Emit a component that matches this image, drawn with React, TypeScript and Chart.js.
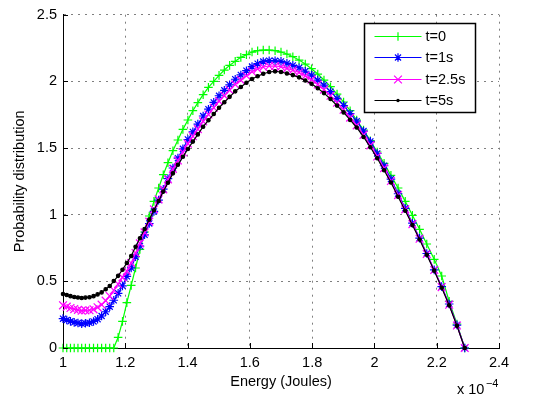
import React, { useEffect, useRef } from "react";
import { Chart, registerables } from "chart.js";

Chart.register(...registerables);

// Energy axis values (units of 1e-4 J)
const energy = [
  1.0, 1.012, 1.024, 1.036, 1.048, 1.06, 1.072, 1.085, 1.098, 1.111,
  1.124, 1.137, 1.15, 1.163, 1.177, 1.191, 1.205, 1.219, 1.233, 1.247,
  1.262, 1.277, 1.292, 1.307, 1.322, 1.337, 1.353, 1.369, 1.385, 1.401,
  1.417, 1.433, 1.45, 1.467, 1.484, 1.501, 1.518, 1.535, 1.553, 1.571,
  1.589, 1.607, 1.625, 1.643, 1.662, 1.681, 1.7, 1.719, 1.738, 1.758,
  1.778, 1.798, 1.818, 1.838, 1.859, 1.88, 1.901, 1.922, 1.943, 1.965,
  1.987, 2.009, 2.031, 2.053, 2.076, 2.099, 2.122, 2.145, 2.168, 2.192,
  2.216, 2.24, 2.265, 2.29,
];

const probT0 = [
  0, 0, 0, 0, 0, 0, 0, 0, 0, 0,
  0, 0, 0, 0, 0.08, 0.2, 0.34, 0.47, 0.6, 0.74,
  0.87, 0.99, 1.1, 1.2, 1.3, 1.39, 1.48, 1.56, 1.64, 1.71,
  1.78, 1.84, 1.9, 1.955, 2.0, 2.045, 2.085, 2.12, 2.15, 2.18,
  2.2, 2.22, 2.23, 2.235, 2.235, 2.23, 2.22, 2.205, 2.185, 2.16,
  2.13, 2.095, 2.055, 2.01, 1.96, 1.905, 1.845, 1.78, 1.71, 1.635,
  1.555, 1.47, 1.385, 1.295, 1.2, 1.1, 0.995, 0.89, 0.78, 0.665,
  0.54, 0.35, 0.18, 0,
];

const probT1 = [
  0.22, 0.21, 0.2, 0.192, 0.188, 0.183, 0.186, 0.189, 0.199, 0.216,
  0.24, 0.272, 0.31, 0.358, 0.41, 0.466, 0.537, 0.601, 0.685, 0.764,
  0.849, 0.934, 1.025, 1.109, 1.191, 1.27, 1.35, 1.424, 1.494, 1.564,
  1.621, 1.679, 1.74, 1.791, 1.842, 1.892, 1.933, 1.974, 2.016, 2.048,
  2.08, 2.111, 2.133, 2.149, 2.155, 2.154, 2.15, 2.135, 2.12, 2.102,
  2.076, 2.047, 2.009, 1.972, 1.923, 1.872, 1.819, 1.759, 1.701, 1.627,
  1.55, 1.459, 1.367, 1.267, 1.157, 1.048, 0.936, 0.824, 0.709, 0.586,
  0.46, 0.33, 0.172, 0,
];

const probT25 = [
  0.32, 0.31, 0.3, 0.292, 0.286, 0.28, 0.282, 0.283, 0.29, 0.305,
  0.325, 0.355, 0.39, 0.433, 0.48, 0.53, 0.577, 0.638, 0.712, 0.785,
  0.867, 0.948, 1.04, 1.115, 1.19, 1.265, 1.344, 1.407, 1.468, 1.533,
  1.588, 1.642, 1.7, 1.751, 1.802, 1.852, 1.893, 1.934, 1.977, 2.009,
  2.042, 2.072, 2.094, 2.108, 2.115, 2.115, 2.11, 2.097, 2.083, 2.066,
  2.041, 2.013, 1.976, 1.938, 1.892, 1.84, 1.787, 1.728, 1.67, 1.599,
  1.52, 1.437, 1.349, 1.253, 1.147, 1.04, 0.929, 0.819, 0.705, 0.585,
  0.457, 0.325, 0.169, 0,
];

const probT5 = [
  0.405, 0.397, 0.389, 0.383, 0.379, 0.375, 0.378, 0.381, 0.389, 0.402,
  0.417, 0.441, 0.465, 0.502, 0.541, 0.587, 0.638, 0.69, 0.76, 0.823,
  0.893, 0.963, 1.033, 1.103, 1.173, 1.24, 1.31, 1.374, 1.434, 1.493,
  1.548, 1.602, 1.66, 1.708, 1.755, 1.802, 1.843, 1.884, 1.925, 1.958,
  1.99, 2.018, 2.038, 2.057, 2.07, 2.075, 2.07, 2.059, 2.047, 2.03,
  2.006, 1.982, 1.948, 1.912, 1.868, 1.818, 1.767, 1.711, 1.654, 1.583,
  1.506, 1.423, 1.333, 1.241, 1.135, 1.03, 0.922, 0.814, 0.7, 0.58,
  0.452, 0.32, 0.166, 0,
];

const seriesLabels = ["t=0", "t=1s", "t=2.5s", "t=5s"];
const xTicks = [1, 1.2, 1.4, 1.6, 1.8, 2, 2.2, 2.4];
const yTicks = [0, 0.5, 1, 1.5, 2, 2.5];
const xTitle = "Energy (Joules)";
const yTitle = "Probability distribution";
const xExpBase = "x 10";
const xExpPower = "\u22124";

const FONT_FAMILY = '"Liberation Sans", Arial, Helvetica, sans-serif';
const FONT_SIZE = 14.5;

function drawMarker(ctx: CanvasRenderingContext2D, style: string, x: number, y: number, r: number, color: string, w: number) {
  ctx.save();
  ctx.strokeStyle = color;
  ctx.fillStyle = color;
  ctx.lineWidth = w;
  ctx.beginPath();
  if (style === "cross" || style === "star") {
    ctx.moveTo(x - r, y);
    ctx.lineTo(x + r, y);
    ctx.moveTo(x, y - r);
    ctx.lineTo(x, y + r);
  }
  if (style === "crossRot" || style === "star") {
    const d = r * Math.SQRT1_2;
    ctx.moveTo(x - d, y - d);
    ctx.lineTo(x + d, y + d);
    ctx.moveTo(x - d, y + d);
    ctx.lineTo(x + d, y - d);
  }
  ctx.stroke();
  if (style === "circle") {
    ctx.beginPath();
    ctx.arc(x, y, r, 0, Math.PI * 2);
    ctx.fill();
  }
  ctx.restore();
}

const decorPlugin = {
  id: "matlabDecor",
  afterDraw(chart: any) {
    const { ctx, chartArea: a, scales } = chart;
    const xs = scales.x;
    const ys = scales.y;
    ctx.save();
    // inward tick marks
    ctx.strokeStyle = "#000";
    ctx.lineWidth = 1;
    ctx.beginPath();
    xTicks.forEach((v) => {
      const px = Math.round(xs.getPixelForValue(v)) + 0.5;
      ctx.moveTo(px, a.bottom);
      ctx.lineTo(px, a.bottom - 5);
    });
    yTicks.forEach((v) => {
      const py = Math.round(ys.getPixelForValue(v)) + 0.5;
      ctx.moveTo(a.left, py);
      ctx.lineTo(a.left + 5, py);
    });
    ctx.stroke();

    // exponent label
    ctx.fillStyle = "#000";
    ctx.textAlign = "left";
    ctx.textBaseline = "alphabetic";
    ctx.font = `${FONT_SIZE}px ${FONT_FAMILY}`;
    const bx = a.right - 42;
    const by = a.bottom + 46;
    ctx.fillText(xExpBase, bx, by);
    const bw = ctx.measureText(xExpBase).width;
    ctx.font = `11px ${FONT_FAMILY}`;
    ctx.fillText(xExpPower, bx + bw + 1.5, by - 7);

    // legend
    const ds = chart.data.datasets;
    const lx = 364.5;
    const ly = 23.5;
    const lw = 111;
    const lh = 89;
    ctx.fillStyle = "#fff";
    ctx.fillRect(lx, ly, lw, lh);
    ctx.strokeStyle = "#000";
    ctx.lineWidth = 1.5;
    ctx.strokeRect(lx, ly, lw, lh);
    ctx.lineWidth = 1;
    ctx.font = `${FONT_SIZE}px ${FONT_FAMILY}`;
    ctx.textBaseline = "middle";
    for (let i = 0; i < ds.length; i++) {
      const d = ds[i];
      const ry = Math.round(ly + 12.5 + i * 21.3) + 0.5;
      ctx.strokeStyle = d.borderColor;
      ctx.lineWidth = 1;
      ctx.beginPath();
      ctx.moveTo(lx + 10, ry);
      ctx.lineTo(lx + 57, ry);
      ctx.stroke();
      drawMarker(ctx, d.pointStyle, lx + 33.5, ry, d.pointRadius, d.borderColor, d.pointBorderWidth);
      ctx.fillStyle = "#000";
      ctx.fillText(d.label, lx + 61, ry + 0.5);
    }
    ctx.restore();
  },
};

function makeDataset(label: string, ys: number[], color: string, style: string, radius: number, order: number) {
  return {
    label,
    data: energy.map((x, i) => ({ x, y: ys[i] })),
    borderColor: color,
    backgroundColor: color,
    borderWidth: 1.2,
    pointStyle: style,
    pointRadius: radius,
    pointHoverRadius: radius,
    pointBorderColor: color,
    pointBackgroundColor: color,
    pointBorderWidth: 1.2,
    tension: 0,
    clip: false,
    order,
  };
}

export default function App() {
  const canvasRef = useRef<HTMLCanvasElement | null>(null);

  useEffect(() => {
    document.body.style.margin = "0";
    const canvas = canvasRef.current;
    if (!canvas) return;
    const font = { family: FONT_FAMILY, size: FONT_SIZE };
    const fmt = (v: any) => String(Math.round(Number(v) * 10) / 10);
    const chart = new Chart(canvas, {
      type: "line",
      data: {
        datasets: [
          makeDataset(seriesLabels[0], probT0, "#00ff00", "cross", 4.3, 4),
          makeDataset(seriesLabels[1], probT1, "#0000ff", "star", 4.3, 3),
          makeDataset(seriesLabels[2], probT25, "#ff00ff", "crossRot", 5.5, 2),
          makeDataset(seriesLabels[3], probT5, "#000000", "circle", 1.7, 1),
        ] as any,
      },
      options: {
        animation: false,
        responsive: false,
        devicePixelRatio: 1,
        events: [],
        layout: { padding: { top: 11, right: 36, left: 0, bottom: 0 } },
        plugins: {
          legend: { display: false },
          tooltip: { enabled: false },
        },
        scales: {
          x: {
            type: "linear",
            min: 1,
            max: 2.4,
            afterBuildTicks: (s: any) => {
              s.ticks = xTicks.map((v) => ({ value: v }));
            },
            afterFit: (s: any) => {
              s.height = 53;
            },
            ticks: { callback: fmt, color: "#000", font, padding: 6, maxRotation: 0, autoSkip: false },
            grid: { color: "rgba(0,0,0,0.5)", lineWidth: 1, drawTicks: false },
            border: { display: true, color: "#000", width: 1, dash: [2, 5] },
            title: { display: true, text: xTitle, color: "#000", font, padding: { top: 0, bottom: 10 } },
          },
          y: {
            type: "linear",
            min: 0,
            max: 2.5,
            afterBuildTicks: (s: any) => {
              s.ticks = yTicks.map((v) => ({ value: v }));
            },
            afterFit: (s: any) => {
              s.width = 63;
            },
            ticks: { callback: fmt, color: "#000", font, padding: 6, autoSkip: false },
            grid: { color: "rgba(0,0,0,0.5)", lineWidth: 1, drawTicks: false },
            border: { display: true, color: "#000", width: 1, dash: [2, 5] },
            title: { display: true, text: yTitle, color: "#000", font, padding: { top: 11, bottom: 0 } },
          },
        },
      } as any,
      plugins: [decorPlugin],
    });
    return () => chart.destroy();
  }, []);

  return (
    <div style={{ position: "fixed", left: 0, top: 0, width: 535, height: 401, background: "#fff" }}>
      <canvas ref={canvasRef} width={535} height={401} style={{ display: "block", width: 535, height: 401 }} />
    </div>
  );
}
